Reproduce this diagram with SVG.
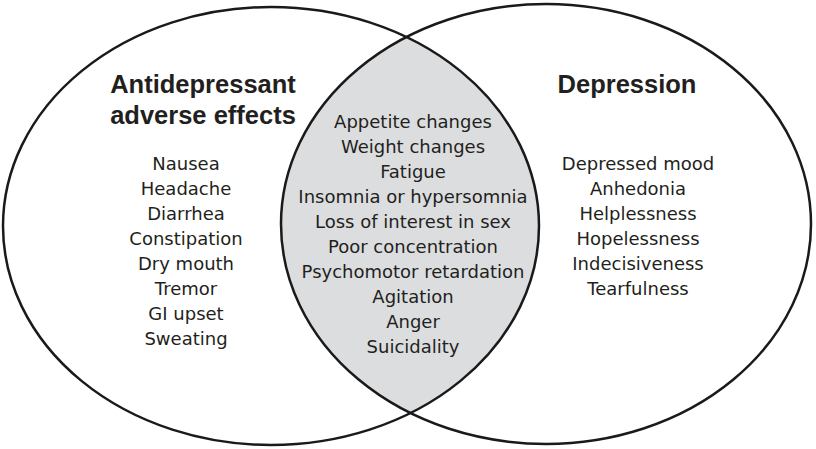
<svg xmlns="http://www.w3.org/2000/svg" width="816" height="449" viewBox="0 0 816 449">
<style>
.outline{fill:none;stroke:#1a1a1a;stroke-width:2.5}
.title{font-family:"Liberation Sans",Arial,sans-serif;font-weight:bold;font-size:25.5px;fill:#231f20;text-anchor:middle}
.item{font-family:"DejaVu Sans","Liberation Sans",sans-serif;font-size:18px;fill:#231f20;text-anchor:middle}
</style>
<defs>
<clipPath id="leftClip"><ellipse cx="271" cy="226" rx="268" ry="219"/></clipPath>
</defs>
<rect width="816" height="449" fill="#ffffff"/>
<g id="overlap-fill">
<ellipse cx="546" cy="224" rx="265" ry="220" fill="#dcdddf" clip-path="url(#leftClip)"/>
</g>
<g id="connectors"></g>
<g id="left-set">
<ellipse class="outline" cx="271" cy="226" rx="268" ry="219"/>
<text class="title" x="203" y="93">Antidepressant</text>
<text class="title" x="203" y="124">adverse effects</text>
<text class="item" x="186" y="170">Nausea</text>
<text class="item" x="186" y="195">Headache</text>
<text class="item" x="186" y="220">Diarrhea</text>
<text class="item" x="186" y="245">Constipation</text>
<text class="item" x="186" y="270">Dry mouth</text>
<text class="item" x="186" y="295">Tremor</text>
<text class="item" x="186" y="320">GI upset</text>
<text class="item" x="186" y="345">Sweating</text>
</g>
<g id="right-set">
<ellipse class="outline" cx="546" cy="224" rx="265" ry="220"/>
<text class="title" x="627" y="93">Depression</text>
<text class="item" x="638" y="170">Depressed mood</text>
<text class="item" x="638" y="195">Anhedonia</text>
<text class="item" x="638" y="220">Helplessness</text>
<text class="item" x="638" y="245">Hopelessness</text>
<text class="item" x="638" y="270">Indecisiveness</text>
<text class="item" x="638" y="295">Tearfulness</text>
</g>
<g id="overlap">
<text class="item" x="413" y="128">Appetite changes</text>
<text class="item" x="413" y="153">Weight changes</text>
<text class="item" x="413" y="178">Fatigue</text>
<text class="item" x="413" y="203">Insomnia or hypersomnia</text>
<text class="item" x="413" y="228">Loss of interest in sex</text>
<text class="item" x="413" y="253">Poor concentration</text>
<text class="item" x="413" y="278">Psychomotor retardation</text>
<text class="item" x="413" y="303">Agitation</text>
<text class="item" x="413" y="328">Anger</text>
<text class="item" x="413" y="353">Suicidality</text>
</g>
</svg>
